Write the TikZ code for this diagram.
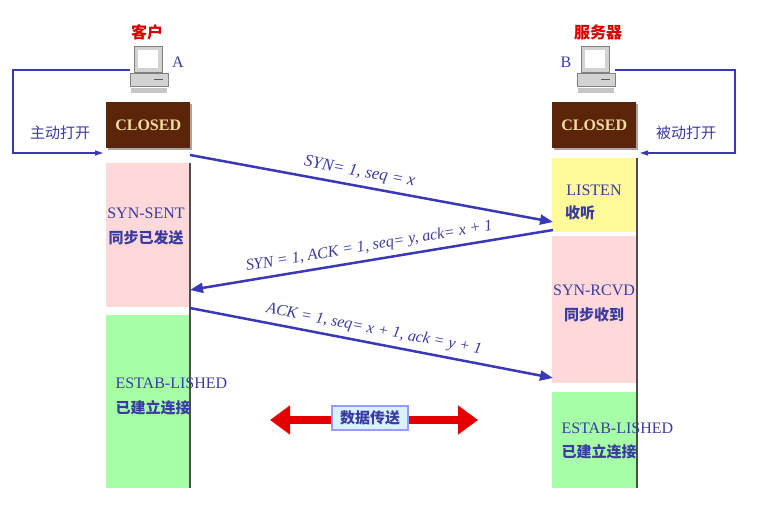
\documentclass[tikz,border=0pt]{standalone}
\usepackage{fontspec}
\setmainfont{Liberation Serif}
\newfontfamily\cjk{Noto Sans CJK SC}
\usetikzlibrary{arrows.meta,shadows}
\definecolor{brn}{HTML}{5C2408}
\definecolor{cream}{HTML}{F0DCA0}
\definecolor{bl}{HTML}{3838B8}
\definecolor{txt}{HTML}{3A3AA0}
\begin{document}
\begin{tikzpicture}[x=1pt,y=-1pt,
 st/.style={draw=none,minimum width=84pt,anchor=north west,inner sep=0},
 closed/.style={st,fill=brn,minimum height=46pt,text=cream,font=\bfseries\fontsize{16}{16}\selectfont,drop shadow={shadow xshift=2pt,shadow yshift=-2pt,fill=black!70}},
 lab/.style={text=txt,font=\fontsize{16}{18}\selectfont},
 clab/.style={text=txt,font=\cjk\bfseries\fontsize{15}{17}\selectfont},
 mlab/.style={sloped,above=4pt,inner sep=1pt,text=txt,font=\itshape\fontsize{16}{16}\selectfont},
 msg/.style={draw=bl,line width=2.5pt,-{Triangle[length=13pt,width=10pt]}},
 loop/.style={draw=bl,line width=1.3pt,-{Triangle[length=8pt,width=5pt]}}]
\useasboundingbox (0,0) rectangle (762,510);
% columns
\node[st,fill=red!15,minimum height=144pt] (ss) at (106,163) {};
\node[st,fill=green!35,minimum height=173pt] (le) at (106,315) {};
\node[st,fill=yellow!40,minimum height=74pt] (li) at (552,158) {};
\node[st,fill=red!15,minimum height=147pt] (sr) at (552,236) {};
\node[st,fill=green!35,minimum height=96pt] (re) at (552,392) {};
\draw[black!70,line width=1.5pt] (190,163)--(190,488) (637,158)--(637,488);
\node[closed] (cl) at (106,102) {CLOSED};
\node[closed] (cr) at (552,102) {CLOSED};
% computers
\foreach \n/\x in {pa/128,pb/575}{
 \fill[gray!35,draw=gray] (\x+6,46) rectangle (\x+34,72);
 \fill[white] (\x+10,50) rectangle (\x+30,68);
 \fill[gray!35,draw=gray] (\x+2,73) rectangle (\x+40,86);
 \draw[gray!70!black,line width=1pt] (\x+26,80)--(\x+35,80);
 \fill[gray!45] (\x+3,88) rectangle (\x+39,93);
}
\coordinate (pal) at (130,70); \coordinate (pbr) at (615,70);
\node[text=red!85!black,font=\cjk\bfseries\fontsize{16}{16}\selectfont] (tc) at (147,32) {客户};
\node[text=red!85!black,font=\cjk\bfseries\fontsize{16}{16}\selectfont] (ts) at (598,32) {服务器};
\node[lab] (la) at (178,62) {A};
\node[lab] (lb) at (566,62) {B};
% loops
\coordinate (lt) at (103,153); \coordinate (rt) at (640,153);
\draw[loop] (pal) -- (13,70) -- (13,153) -- (lt);
\draw[loop] (pbr) -- (735,70) -- (735,153) -- (rt);
\node[text=txt,font=\cjk\fontsize{15}{15}\selectfont] (zd) at (60,133) {主动打开};
\node[text=txt,font=\cjk\fontsize{15}{15}\selectfont] (bd) at (686,133) {被动打开};
% state labels
\node[lab] (t1) at (146,213) {SYN-SENT};
\node[clab] (t2) at (146,238) {同步已发送};
\node[lab,anchor=west] (t3) at (112,383) {ESTAB-LISHED};
\node[clab,anchor=west] (t4) at (112,408) {已建立连接};
\node[lab] (t5) at (594,190) {LISTEN};
\node[clab] (t6) at (580,213) {收听};
\node[lab] (t7) at (594,290) {SYN-RCVD};
\node[clab] (t8) at (594,315) {同步收到};
\node[lab,anchor=west] (t9) at (558,428) {ESTAB-LISHED};
\node[clab,anchor=west] (t10) at (558,452) {已建立连接};
% messages
\coordinate (a1) at (190,155); \coordinate (b1) at (553,222);
\coordinate (a2) at (553,230); \coordinate (b2) at (190,290);
\coordinate (a3) at (190,308); \coordinate (b3) at (553,378);
\draw[msg] (a1) -- node[mlab,pos=0.46,font=\itshape\fontsize{17}{17}\selectfont] {SYN= 1, seq = x} (b1);
\draw[msg] (a2) -- node[mlab,pos=0.5] {SYN = 1, ACK = 1, seq= y, ack= x + 1} (b2);
\draw[msg] (a3) -- node[mlab,pos=0.5] {ACK = 1, seq= x + 1, ack = y + 1} (b3);
% data transfer
\coordinate (d1) at (270,420); \coordinate (d2) at (478,420);
\draw[red!90!black,line width=8pt,{Triangle[length=20pt,width=28pt]}-{Triangle[length=20pt,width=28pt]}] (d1) -- (d2);
\node[draw=blue!40,line width=1.5pt,fill=cyan!15,text=txt,font=\cjk\bfseries\fontsize{15}{15}\selectfont,inner xsep=8pt,inner ysep=5pt] (dt) at (370,418) {数据传送};
\end{tikzpicture}
\end{document}
